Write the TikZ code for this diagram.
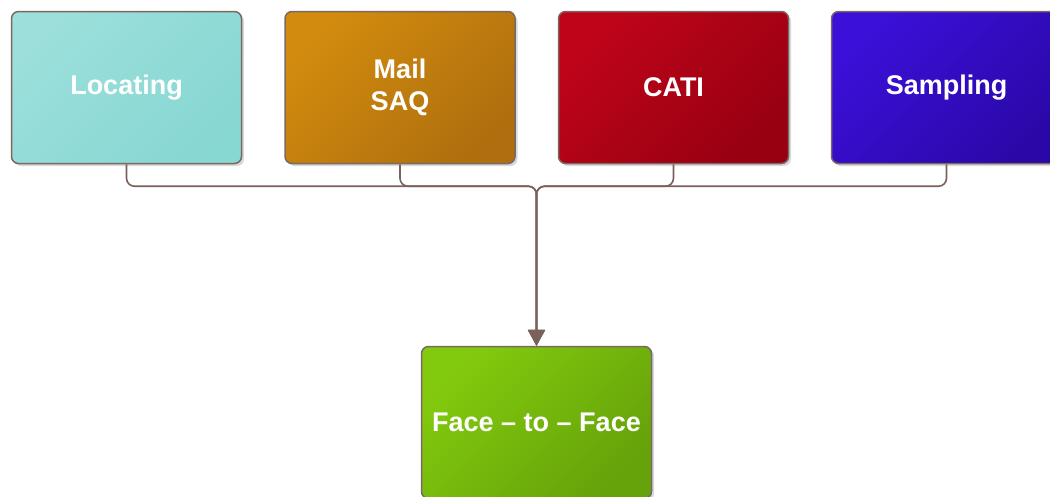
\documentclass[tikz,border=0pt]{standalone}
\usepackage{fontspec}
\setmainfont{Liberation Sans}
\usepackage{xcolor}
\usetikzlibrary{arrows.meta,shadows}

\definecolor{locA}{HTML}{9CDFDB}
\definecolor{locB}{HTML}{87D7D3}
\definecolor{mailA}{HTML}{D28B0E}
\definecolor{mailB}{HTML}{AF6F0E}
\definecolor{catiA}{HTML}{BF0419}
\definecolor{catiB}{HTML}{980012}
\definecolor{sampA}{HTML}{3B10D8}
\definecolor{sampB}{HTML}{2A08A8}
\definecolor{ffA}{HTML}{82CA0E}
\definecolor{ffB}{HTML}{66A20A}
\definecolor{edgegrey}{HTML}{7A6862}
\definecolor{linkbrown}{HTML}{7A615A}

\begin{document}
\begin{tikzpicture}[x=1pt,y=-1pt,
  box/.style={draw=edgegrey, line width=1.5pt, rounded corners=7pt,
    minimum width=230pt, minimum height=152pt, inner sep=0pt,
    align=center, text=white,
    font=\fontsize{27}{32}\selectfont\bfseries,
    drop shadow={shadow xshift=2.5pt, shadow yshift=-2.5pt, opacity=0.25, fill=black!60}},
  fade/.style 2 args={shading=axis, top color=#1, bottom color=#2, shading angle=45},
  link/.style={draw=linkbrown, line width=1.6pt, rounded corners=8pt}]
  \useasboundingbox (0,0) rectangle (1050,496);
  \clip (0,0) rectangle (1050,496);

  % sources
  \node[box, fade={locA}{locB}]   (loc)  at (126.5,87.5) {Locating};
  \node[box, fade={mailA}{mailB}] (mail) at (400,87.5)   {Mail\\SAQ};
  \node[box, fade={catiA}{catiB}] (cati) at (673.5,87.5) {CATI};
  \node[box, fade={sampA}{sampB}] (samp) at (946.5,87.5) {Sampling};

  % target
  \node[box, fade={ffA}{ffB}] (ff) at (536.5,422.5) {Face -- to -- Face};

  \foreach \src in {loc,mail,cati,samp}
    \draw[link, -{Triangle[length=16pt,width=17pt]}] (\src.south) -- ++(0,22) -| (ff.north);
\end{tikzpicture}
\end{document}
